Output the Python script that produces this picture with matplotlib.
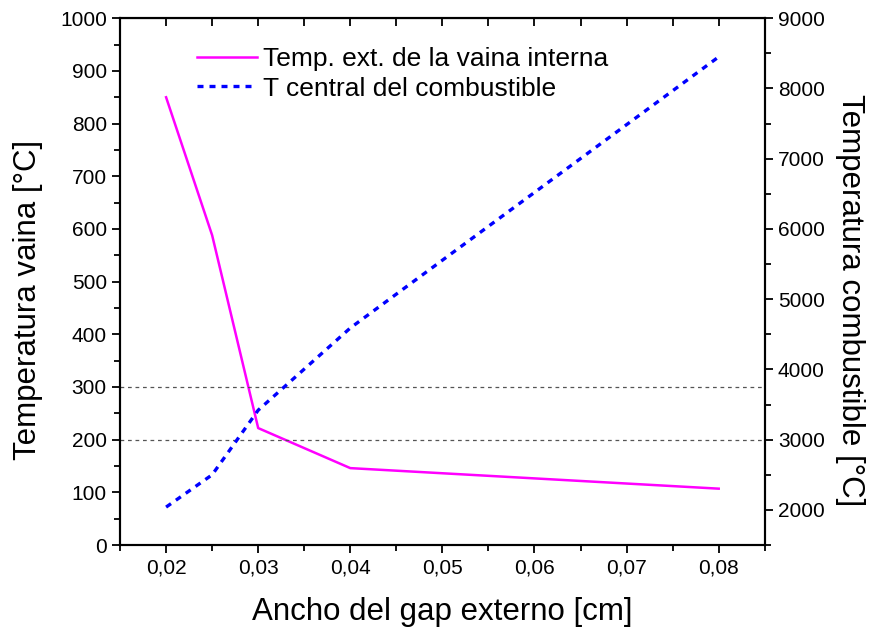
import numpy as np
import matplotlib.pyplot as plt
from matplotlib.ticker import MultipleLocator, FuncFormatter

plt.rcParams['font.family'] = ['Liberation Sans', 'DejaVu Sans']

# data
gap = [0.02, 0.025, 0.03, 0.04, 0.08]
t_vaina = [850, 588, 222, 146, 107]
t_comb = [2040, 2500, 3420, 4590, 8450]
limites = [200, 300]

fig = plt.figure(figsize=(8.73, 6.29), dpi=100)
ax = fig.add_axes([0.1375, 0.1335, 0.7385, 0.8375])
ax2 = ax.twinx()

l1, = ax.plot(gap, t_vaina, color='#ff00ff', lw=1.8, label='Temp. ext. de la vaina interna')
l2, = ax2.plot(gap, t_comb, color='#0000ff', lw=2.4, dashes=(1.8, 1.8),
               label='T central del combustible')
for v in limites:
    ax.axhline(v, color='#555555', lw=0.9, dashes=(3, 3))

ax.set_xlim(0.015, 0.085)
ax.set_ylim(0, 1000)
ax2.set_ylim(1500, 9000)

ax.xaxis.set_major_locator(MultipleLocator(0.01))
ax.xaxis.set_minor_locator(MultipleLocator(0.005))
ax.yaxis.set_major_locator(MultipleLocator(100))
ax.yaxis.set_minor_locator(MultipleLocator(50))
ax2.yaxis.set_major_locator(MultipleLocator(1000))
ax2.yaxis.set_minor_locator(MultipleLocator(500))

ax.xaxis.set_major_formatter(FuncFormatter(lambda x, p: f'{x:.2f}'.replace('.', ',')))
ax2.set_yticks([2000, 3000, 4000, 5000, 6000, 7000, 8000, 9000])

for a in (ax, ax2):
    a.tick_params(which='major', direction='out', length=6, width=1.3, labelsize=15)
    a.tick_params(which='minor', direction='out', length=4, width=1.3)
    for s in a.spines.values():
        s.set_linewidth(1.5)

top = ax.secondary_xaxis('top')
top.xaxis.set_major_locator(MultipleLocator(0.01))
top.xaxis.set_minor_locator(MultipleLocator(0.005))
top.tick_params(which='both', direction='in', length=6, width=1.3, labeltop=False)

ax.set_xlabel('Ancho del gap externo [cm]', fontsize=22.5, labelpad=14)
ax.set_ylabel('Temperatura vaina [°C]', fontsize=22.5, va='center', ha='center')
ax2.set_ylabel('Temperatura combustible [°C]', fontsize=22.5, rotation=270,
               va='center', ha='center')
ax.yaxis.set_label_coords(-0.143, 0.465)
ax2.yaxis.set_label_coords(1.132, 0.465)

ax.legend(handles=[l1, l2], loc='upper left', bbox_to_anchor=(0.09, 0.98), frameon=False,
          fontsize=19, handlelength=2.3, handletextpad=0.2, labelspacing=0.2, borderaxespad=0.3)

fig.savefig('out.png', dpi=100)
